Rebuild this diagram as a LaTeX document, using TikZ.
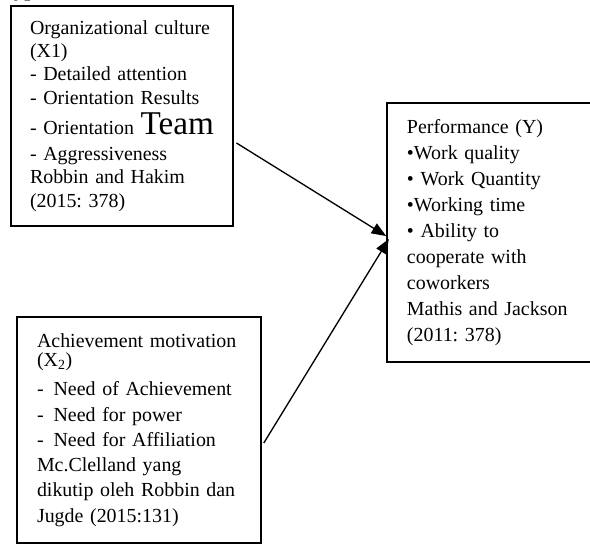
\documentclass[tikz,border=0pt]{standalone}
\usepackage{fontspec}
\setmainfont{Liberation Serif}
\usepackage{tikz}
\usetikzlibrary{arrows.meta, positioning}
\frenchspacing

\begin{document}
\begin{tikzpicture}[
    every node/.style={font=\fontsize{15}{19.5}\selectfont},
    varbox/.style={draw, rectangle, line width=1.2pt, align=left, inner ysep=0pt},
    arrow/.style={-{Triangle[length=11pt, width=8.5pt]}, line width=1pt}
]
    \useasboundingbox (0,0) rectangle (15.61,-14.39);

    % Heading (cut off at the top)
    \node (hyp) [anchor=base west, inner sep=0pt, font=\fontsize{16}{19}\selectfont\bfseries] at (-0.08,0.09) {Hypothesis};

    % Variables
    \node (org) [varbox, inner xsep=0.503cm, text width=4.868cm, minimum height=5.821cm,
        font=\fontsize{15}{17.5}\selectfont] at (3.228,-3.069)
        {Organizational culture\\
         (X1)\\
         - Detailed attention\\
         - Orientation Results\\[5pt]
         - Orientation {\fontsize{25}{17.5}\selectfont Team}\\[2.5pt]
         - Aggressiveness\\
         Robbin and Hakim\\
         (2015: 378)};

    \node (mot) [varbox, inner xsep=0.529cm, text width=5.397cm, minimum height=5.98cm,
        font=\fontsize{15}{19}\selectfont] at (3.678,-11.377)
        {Achievement motivation\\[-4.5pt]
         (X\textsubscript{2})\\[3pt]
         -\hspace{7.5pt}Need of Achievement\\
         -\hspace{7.5pt}Need for power\\
         -\hspace{7.5pt}Need for Affiliation\\
         Mc.Clelland yang\\
         dikutip oleh Robbin dan\\
         Jugde (2015:131)};

    \node (perf) [varbox, inner xsep=0.529cm, text width=4.366cm, minimum height=6.853cm,
        font=\fontsize{15}{19.6}\selectfont] at (12.951,-6.152)
        {Performance (Y)\\
         \textbullet Work quality\\
         \textbullet{} Work Quantity\\
         \textbullet Working time\\
         \textbullet{} Ability to\\
         cooperate with\\
         coworkers\\
         Mathis and Jackson\\
         (2011: 378)};

    % Effects
    \draw[arrow] ([xshift=2pt, yshift=-0.714cm]org.east) -- ([yshift=-0.093cm]perf.west);
    \draw[arrow] ([xshift=1.5pt, yshift=-0.344cm]mot.east) -- ([xshift=2pt, yshift=-0.172cm]perf.west);
\end{tikzpicture}
\end{document}
